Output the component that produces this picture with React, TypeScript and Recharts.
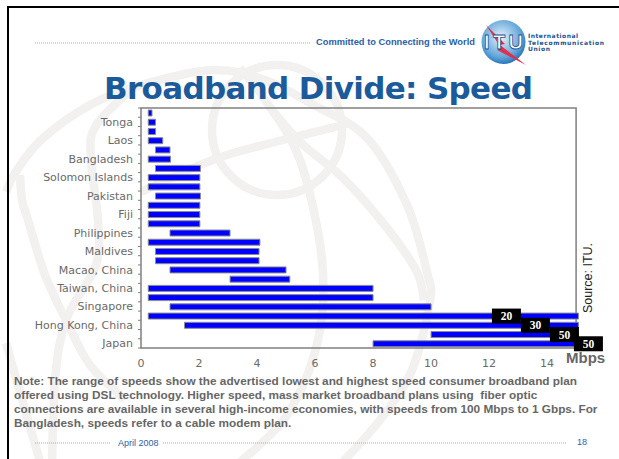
import { BarChart, Bar, XAxis, YAxis, ReferenceArea, LabelList } from 'recharts'

// only every second row carries a label in the source slide
const categories = [
  '', 'Tonga', '', 'Laos', '', 'Bangladesh', '', 'Solomon Islands', '', 'Pakistan', '', 'Fiji', '',
  'Philippines', '', 'Maldives', '', 'Macao, China', '', 'Taiwan, China', '', 'Singapore', '',
  'Hong Kong, China', '', 'Japan'
]
const lowSpeeds = [
  0.25, 0.25, 0.25, 0.25, 0.5, 0.25, 0.5, 0.25, 0.25, 0.5, 0.25, 0.25, 0.25,
  1, 0.25, 0.5, 0.5, 1, 3.07, 0.25, 0.25, 1, 0.25, 1.5, 10, 8
]
const highSpeeds = [
  0.38, 0.5, 0.5, 0.75, 1, 1.02, 2.05, 2.03, 2.03, 2.05, 2.03, 2.03, 2.03,
  3.07, 4.1, 4.07, 4.07, 5, 5.13, 8, 8, 10, 15.08, 15.08, 15.08, 15.08
]
// off-scale plans are cut at the axis end and labelled with their real speed
const capLabels = ['', '', '', '', '', '', '', '', '', '', '', '', '', '', '', '', '', '', '', '', '', '', '20', '30', '50', '50']
const xTicks = [0, 2, 4, 6, 8, 10, 12, 14]
const noteLines = [
  'Note: The range of speeds show the advertised lowest and highest speed consumer broadband plan',
  'offered using DSL technology. Higher speed, mass market broadband plans using  fiber optic',
  'connections are available in several high-income economies, with speeds from 100 Mbps to 1 Gbps. For',
  'Bangladesh, speeds refer to a cable modem plan.'
]

const chartData = categories.map((name, i) => ({
  name,
  range: [lowSpeeds[i], highSpeeds[i]],
  cap: capLabels[i]
}))

const capShift = [-72, -43, -14, 10]
const AXIS_GREY = '#808080'
const BLUE_TEXT = '#2b5fa8'
const ROW_H = 240 / 26

// background globe of the slide template, traced by eye
const globeArcs = [
  [[6, 192], [15, 173], [41, 140], [90, 105], [141, 85], [213, 70], [265, 80], [310, 103], [367, 138], [407, 205], [427, 272], [430, 300], [412, 370], [380, 420], [340, 465]],
  [[6, 343], [28, 420], [41, 465]],
  [[130, 90], [95, 127], [91, 160], [98, 220], [96, 265], [66, 320], [55, 380], [52, 465]],
  [[20, 175], [22, 200], [28, 220], [45, 275], [66, 320], [90, 365], [125, 400]],
  [[240, 68], [265, 100], [300, 160], [322, 260], [318, 340], [287, 415], [237, 465]],
  [[141, 192], [200, 165], [233, 153], [283, 140], [347, 124]],
  [[268, 105], [300, 142], [343, 178], [387, 228], [417, 272], [424, 300]]
]

// catmull-rom through the traced points
const smoothPath = (pts: number[][]) => {
  let d = `M${pts[0][0]} ${pts[0][1]}`
  for (let i = 0; i < pts.length - 1; i++) {
    const p0 = pts[i - 1] ?? pts[i]
    const p1 = pts[i]
    const p2 = pts[i + 1]
    const p3 = pts[i + 2] ?? p2
    const c1x = p1[0] + (p2[0] - p0[0]) / 6
    const c1y = p1[1] + (p2[1] - p0[1]) / 6
    const c2x = p2[0] - (p3[0] - p1[0]) / 6
    const c2y = p2[1] - (p3[1] - p1[1]) / 6
    d += ` C${c1x} ${c1y} ${c2x} ${c2y} ${p2[0]} ${p2[1]}`
  }
  return d
}

const CategoryTick = ({ x, y, payload, index }: any) => (
  <g>
    <line x1={x + 5} x2={x + 8} y1={y + ROW_H / 2} y2={y + ROW_H / 2} stroke={AXIS_GREY} />
    {index === 0 && <line x1={x + 5} x2={x + 8} y1={y - ROW_H / 2} y2={y - ROW_H / 2} stroke={AXIS_GREY} />}
    <text x={x} y={y + 4} textAnchor="end" fontSize={11} fontFamily="DejaVu Sans" fill="#6a6a6a">
      {payload.value}
    </text>
  </g>
)

const CapLabel = ({ x, y, width, height, value, index }: any) => {
  if (!value) return null
  const cx = x + width + capShift[index - 22]
  const cy = y + height / 2
  return (
    <g>
      <rect x={cx - 14.5} y={cy - 7.5} width={29} height={15} fill="#000" />
      <text x={cx} y={cy + 4} textAnchor="middle" fontSize={11.5} fontWeight="bold" fontFamily="Liberation Serif" fill="#fff">
        {value}
      </text>
    </g>
  )
}

const Watermark = () => (
  <svg width={619} height={459} style={{ position: 'absolute', left: 0, top: 0 }}>
    <g fill="none" stroke="#f2f1ef" strokeWidth={8.5}>
      <circle cx={277} cy={130} r={65} />
      {globeArcs.map((pts, i) => (
        <path key={i} d={smoothPath(pts)} />
      ))}
    </g>
  </svg>
)

const Slide = () => (
  <svg width={619} height={459} style={{ position: 'absolute', left: 0, top: 0 }}>
    <rect x={8} y={7} width={620} height={460} fill="none" stroke="#000" strokeWidth={2} />
    <line x1={35} x2={310} y1={43} y2={43} stroke="#aaa" strokeDasharray="1 1" />
    <text x={316} y={45} fontSize={9.3} fontWeight="bold" fontFamily="Liberation Sans" fill={BLUE_TEXT}>
      Committed to Connecting the World
    </text>
    {/* ITU logo */}
    <defs>
      <radialGradient id="globe" cx="45%" cy="40%" r="65%">
        <stop offset="0%" stopColor="#e8f2fa" />
        <stop offset="70%" stopColor="#5fa4d8" />
        <stop offset="100%" stopColor="#1667ae" />
      </radialGradient>
    </defs>
    <circle cx={503.5} cy={42} r={22} fill="url(#globe)" />
    <path d="M486 25 L505 44 L500 45 L526 65 L497 50 L501 48 Z" fill="#e0304f" />
    <text x={484} y={49} fontSize={20} fontWeight="bold" fontFamily="Liberation Sans" fill="#fff" stroke="#1b4f8f" strokeWidth={0.8} textLength={39}>
      ITU
    </text>
    <g fontSize={6} fontWeight="bold" fontFamily="DejaVu Sans" fill="#1b4f8f">
      <text x={528} y={38} textLength={50}>International</text>
      <text x={528} y={45} textLength={76}>Telecommunication</text>
      <text x={528} y={51} textLength={22}>Union</text>
    </g>
    <text x={104} y={99} fontSize={31} fontWeight="bold" fontFamily="DejaVu Sans" fill="#1b5b9c" textLength={429}>
      Broadband Divide: Speed
    </text>
    <text x={566} y={363} fontSize={15} fontWeight="bold" fontFamily="Liberation Sans" fill="#666">
      Mbps
    </text>
    <text transform="translate(592 278) rotate(-90)" textAnchor="middle" fontSize={12.5} fontFamily="Liberation Sans" fill="#222">
      Source: ITU.
    </text>
    <g fontSize={11.8} fontWeight="bold" fontFamily="Liberation Sans" fill="#666">
      {noteLines.map((line, i) => (
        <text key={i} x={14} y={385 + i * 14} xmlSpace="preserve">{line}</text>
      ))}
    </g>
    <line x1={35} x2={110} y1={443} y2={443} stroke="#aaa" strokeDasharray="1 1" />
    <line x1={163} x2={567} y1={443} y2={443} stroke="#aaa" strokeDasharray="1 1" />
    <text x={118} y={446} fontSize={9} fontFamily="Liberation Sans" fill={BLUE_TEXT}>April 2008</text>
    <text x={577} y={445} fontSize={9} fontFamily="Liberation Sans" fill={BLUE_TEXT}>18</text>
  </svg>
)

const App = () => (
  <div style={{ position: 'absolute', left: 0, top: 0, width: 619, height: 459, overflow: 'hidden', background: '#fff' }}>
    <Watermark />
    <Slide />
    <div style={{ position: 'absolute', left: 0, top: 0 }}>
      <BarChart
        width={619}
        height={459}
        data={chartData}
        layout="vertical"
        margin={{ top: 108, right: 40, left: 11, bottom: 81 }}
        barCategoryGap={0}
      >
        <ReferenceArea x1={0} x2={15} fill="none" stroke={AXIS_GREY} strokeWidth={1.5} ifOverflow="visible" />
        <XAxis
          type="number"
          domain={[0, 15.1]}
          ticks={xTicks}
          height={30}
          tickLine={false}
          axisLine={false}
          tickMargin={5}
          tick={{ fontSize: 11, fontFamily: 'DejaVu Sans', fill: '#6a6a6a' }}
        />
        <YAxis
          type="category"
          dataKey="name"
          width={130}
          interval={0}
          tickLine={false}
          axisLine={false}
          tick={<CategoryTick />}
        />
        <Bar dataKey="range" barSize={6} fill="#0000ff" stroke="#8c8c8c" strokeWidth={1} isAnimationActive={false}>
          <LabelList dataKey="cap" content={<CapLabel />} />
        </Bar>
      </BarChart>
    </div>
  </div>
)

export default App
